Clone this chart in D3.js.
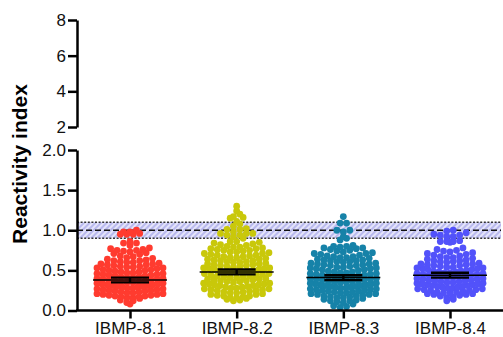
<!DOCTYPE html>
<html>
<head>
<meta charset="utf-8">
<script src="https://cdn.jsdelivr.net/npm/d3@7"></script>
<style>
  body { margin: 0; background: #fff; }
  svg { display: block; font-family: "Liberation Sans", Arial, sans-serif; }
</style>
</head>
<body>
<div id="chart"></div>
<script>
// groups and colours
var groups = ["IBMP-8.1", "IBMP-8.2", "IBMP-8.3", "IBMP-8.4"];
var colors = ["#ff3b2f", "#c9c80a", "#1682a8", "#5252fa"];

// reactivity index of each sample
var ibmp81 = [0.08,0.10,0.12,0.13,
  0.15,0.16,0.16,0.17,0.17,0.18,0.18,0.19,0.19,0.20,
  0.20,0.21,0.21,0.22,0.22,0.23,0.23,0.24,0.24,0.25,
  0.25,0.26,0.26,0.27,0.27,0.28,0.28,0.29,0.29,0.30,
  0.30,0.31,0.31,0.32,0.32,0.33,0.33,0.34,0.34,0.35,
  0.35,0.36,0.36,0.37,0.37,0.38,0.38,0.39,0.39,0.40,
  0.40,0.41,0.41,0.42,0.42,0.43,0.43,0.44,0.44,0.45,
  0.45,0.46,0.46,0.47,0.47,0.48,0.48,0.49,0.50,
  0.50,0.51,0.51,0.52,0.53,0.53,0.54,0.54,0.55,
  0.55,0.56,0.57,0.57,0.58,0.58,0.59,0.60,
  0.60,0.61,0.62,0.62,0.63,0.64,0.65,
  0.66,0.67,0.68,0.70,
  0.71,0.72,0.73,0.74,0.75,0.75,0.76,0.77,0.78,
  0.81,0.84,0.84,0.86,
  0.95,0.95,0.95,0.96,0.98,0.98,1.00];

var ibmp82 = [0.12,0.13,0.14,
  0.15,0.16,0.16,0.17,0.18,0.18,0.19,0.20,
  0.20,0.21,0.22,0.22,0.23,0.23,0.24,0.25,0.25,
  0.26,0.26,0.27,0.27,0.28,0.28,0.29,0.29,0.30,
  0.31,0.31,0.32,0.32,0.33,0.33,0.34,0.34,0.35,
  0.36,0.36,0.37,0.37,0.38,0.38,0.39,0.39,0.40,
  0.41,0.41,0.42,0.42,0.43,0.43,0.44,0.44,0.45,
  0.46,0.46,0.47,0.47,0.48,0.48,0.49,0.49,0.50,
  0.51,0.51,0.52,0.52,0.53,0.53,0.54,0.55,0.55,
  0.56,0.56,0.57,0.57,0.58,0.58,0.59,0.60,0.60,
  0.61,0.61,0.62,0.62,0.63,0.64,0.64,0.65,
  0.66,0.66,0.67,0.67,0.68,0.69,0.69,0.70,
  0.71,0.71,0.72,0.73,0.73,0.74,0.75,0.75,
  0.76,0.77,0.77,0.78,0.79,0.79,0.80,
  0.81,0.82,0.83,0.84,0.85,0.86,0.86,
  0.90,0.92,0.94,0.94,0.96,0.96,0.96,0.98,
  1.01,1.01,1.02,1.05,1.08,1.11,
  1.15,1.16,1.17,1.20,1.24,1.30];

var ibmp83 = [0.04,0.05,0.06,0.08,0.10,
  0.11,0.12,0.12,0.13,0.14,0.15,
  0.16,0.16,0.17,0.17,0.18,0.18,0.19,0.20,
  0.20,0.21,0.21,0.22,0.22,0.23,0.23,0.24,0.24,0.25,
  0.25,0.26,0.26,0.27,0.27,0.28,0.28,0.29,0.29,0.30,
  0.30,0.31,0.31,0.32,0.32,0.33,0.33,0.34,0.34,0.35,
  0.35,0.36,0.36,0.37,0.37,0.38,0.38,0.39,0.39,0.40,
  0.40,0.41,0.41,0.42,0.42,0.43,0.43,0.44,0.44,0.45,
  0.45,0.46,0.46,0.47,0.47,0.48,0.48,0.49,0.50,
  0.51,0.51,0.52,0.52,0.53,0.53,0.54,0.54,0.55,
  0.56,0.56,0.57,0.57,0.58,0.58,0.59,0.59,0.60,
  0.61,0.61,0.62,0.62,0.63,0.63,0.64,0.65,
  0.66,0.66,0.67,0.67,0.68,0.69,0.70,
  0.71,0.71,0.72,0.73,0.74,0.75,
  0.76,0.77,0.78,0.78,0.79,0.80,0.80,0.81,
  0.88,0.90,0.92,0.98,1.00,1.00,1.09,1.09,1.17];

var ibmp84 = [0.12,0.14,0.16,
  0.17,0.18,0.19,0.20,
  0.20,0.21,0.21,0.22,0.22,0.23,0.23,0.24,0.25,
  0.25,0.26,0.26,0.27,0.27,0.28,0.28,0.29,0.29,0.30,
  0.30,0.31,0.31,0.32,0.32,0.33,0.33,0.34,0.34,0.35,
  0.35,0.36,0.36,0.37,0.37,0.38,0.38,0.39,0.39,0.40,
  0.40,0.41,0.41,0.42,0.42,0.43,0.43,0.44,0.44,0.45,
  0.45,0.46,0.46,0.47,0.47,0.48,0.48,0.49,0.49,0.50,
  0.51,0.51,0.52,0.52,0.53,0.53,0.54,0.54,0.55,
  0.56,0.56,0.57,0.57,0.58,0.58,0.59,0.60,
  0.61,0.61,0.62,0.62,0.63,0.64,0.65,
  0.66,0.66,0.67,0.68,0.69,0.70,
  0.71,0.72,0.73,0.74,0.75,0.76,0.78,
  0.85,0.86,0.86,0.86,0.87,
  0.92,0.92,0.94,0.94,0.95,0.97,0.99,1.00];

var samples = [ibmp81, ibmp82, ibmp83, ibmp84];

// mean and SEM lines as drawn in the picture
var means = [0.38, 0.48, 0.41, 0.44];
var sems = [0.03, 0.03, 0.03, 0.03];

// cut-off band
var cutoff = 1.0, cutoffLow = 0.9, cutoffHigh = 1.1;

var topTicks = [2, 4, 6, 8];
var botTicks = [0, 0.5, 1.0, 1.5, 2.0];

var W = 503, H = 337;
var axisX = 77;
var dotR = 3.4;

var svg = d3.select("#chart").append("svg")
  .attr("width", W).attr("height", H);

var defs = svg.append("defs");
var pat = defs.append("pattern")
  .attr("id", "hatch")
  .attr("patternUnits", "userSpaceOnUse")
  .attr("width", 4).attr("height", 4)
  .attr("patternTransform", "rotate(45)");
pat.append("rect").attr("width", 4).attr("height", 4).attr("fill", "#e4e4fa");
pat.append("rect").attr("width", 2).attr("height", 4).attr("fill", "#b9b9ee");

var yTop = d3.scaleLinear().domain([2, 8]).range([127, 20]);
var yBot = d3.scaleLinear().domain([0, 2]).range([310.5, 150]);
var x = d3.scalePoint().domain(groups).range([130, 450]);

// band
svg.append("rect")
  .attr("x", axisX).attr("width", 424)
  .attr("y", yBot(cutoffHigh))
  .attr("height", yBot(cutoffLow) - yBot(cutoffHigh))
  .attr("fill", "url(#hatch)");
[cutoffLow, cutoffHigh].forEach(function(v){
  svg.append("line")
    .attr("x1", axisX).attr("x2", 501)
    .attr("y1", yBot(v)).attr("y2", yBot(v))
    .attr("stroke", "#333").attr("stroke-width", 1.4)
    .attr("stroke-dasharray", "2,1.6");
});
svg.append("line")
  .attr("x1", axisX).attr("x2", 501)
  .attr("y1", yBot(cutoff)).attr("y2", yBot(cutoff))
  .attr("stroke", "#111").attr("stroke-width", 1.4)
  .attr("stroke-dasharray", "6,3");

// Prism-like scatter: values are grouped into rows a dot high, and each
// row is spread sideways from the centre (lowest value in the middle)
function scatterRows(values, yScale, r, maxW) {
  var rowH = r * 1.5, step = r * 1.9;
  var rows = d3.groups(values, function(v){ return Math.round(yScale(v) / rowH); });
  var out = [];
  rows.forEach(function(row){
    var vals = row[1].slice().sort(d3.ascending);
    var n = vals.length;
    var s = n > 1 ? Math.min(step, 2 * maxW / (n - 1)) : 0;
    var slots = d3.range(n).map(function(j){ return (j - (n - 1) / 2) * s; })
      .sort(function(a, b){ return Math.abs(a) - Math.abs(b) || a - b; });
    vals.forEach(function(v, j){
      out.push({ v: v, x: slots[j], y: yScale(v) });
    });
  });
  return out;
}

samples.forEach(function(vals, i){
  var pts = scatterRows(vals, yBot, dotR, 33);
  svg.append("g").selectAll("circle")
    .data(pts)
    .enter().append("circle")
    .attr("cx", function(d){ return x(groups[i]) + d.x; })
    .attr("cy", function(d){ return d.y; })
    .attr("r", dotR)
    .attr("fill", colors[i]);
});

// mean line and SEM bars
groups.forEach(function(g, i){
  var cx = x(g);
  var gg = svg.append("g").attr("stroke", "#000");
  gg.append("line")
    .attr("x1", cx - 37).attr("x2", cx + 37)
    .attr("y1", yBot(means[i])).attr("y2", yBot(means[i]))
    .attr("stroke-width", 1.5);
  [means[i] - sems[i], means[i] + sems[i]].forEach(function(v){
    gg.append("line")
      .attr("x1", cx - 19).attr("x2", cx + 19)
      .attr("y1", yBot(v)).attr("y2", yBot(v))
      .attr("stroke-width", 2.4);
  });
  gg.append("line")
    .attr("x1", cx).attr("x2", cx)
    .attr("y1", yBot(means[i] - sems[i])).attr("y2", yBot(means[i] + sems[i]))
    .attr("stroke-width", 2.4);
});

// y axes (broken)
var axTop = svg.append("g")
  .attr("transform", "translate(" + axisX + ",0)")
  .call(d3.axisLeft(yTop).tickValues(topTicks).tickFormat(d3.format("d")).tickSize(9).tickSizeOuter(0));
var axBot = svg.append("g")
  .attr("transform", "translate(" + axisX + ",0)")
  .call(d3.axisLeft(yBot).tickValues(botTicks).tickFormat(d3.format(".1f")).tickSize(9).tickSizeOuter(0));

// x axis
var axX = svg.append("g")
  .attr("transform", "translate(0," + yBot(0) + ")")
  .call(d3.axisBottom(x).tickSize(8).tickSizeOuter(0));
axX.select(".domain").remove();
svg.append("line")
  .attr("x1", axisX - 1).attr("x2", W)
  .attr("y1", yBot(0)).attr("y2", yBot(0))
  .attr("stroke", "#000").attr("stroke-width", 2.5);

[axTop, axBot].forEach(function(a){
  a.select(".domain").attr("stroke-width", 2.5);
  a.selectAll(".tick line").attr("stroke-width", 2.5);
  a.selectAll(".tick text").attr("x", -11).attr("font-size", 17).attr("fill", "#111")
    .attr("font-family", "Liberation Sans, Arial, sans-serif");
});
axX.selectAll(".tick line").attr("stroke-width", 2.5);
axX.selectAll(".tick text").attr("y", 11).attr("font-size", 17).attr("fill", "#111")
  .attr("font-family", "Liberation Sans, Arial, sans-serif");

// y title
svg.append("text")
  .attr("transform", "translate(27,164) rotate(-90)")
  .attr("text-anchor", "middle")
  .attr("font-size", 21)
  .attr("font-weight", "bold")
  .text("Reactivity index");
</script>
</body>
</html>
